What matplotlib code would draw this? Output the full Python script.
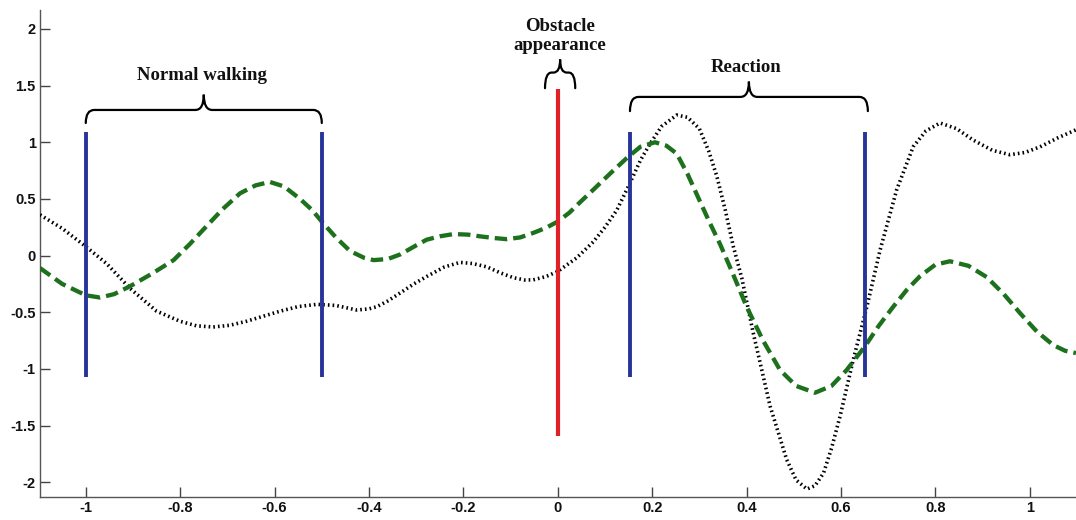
import matplotlib
matplotlib.use("Agg")
import matplotlib.pyplot as plt
from matplotlib.path import Path
from matplotlib.patches import PathPatch

plt.rcParams['axes.unicode_minus'] = False

# ---------------- data ----------------
green_x = [-1.097, -1.05, -1.0, -0.97, -0.94, -0.906, -0.86, -0.814, -0.78, -0.744,
           -0.71, -0.673, -0.64, -0.61, -0.58, -0.546, -0.52, -0.5, -0.47, -0.44,
           -0.41, -0.39, -0.36, -0.334, -0.30, -0.278, -0.25, -0.221, -0.19, -0.165,
           -0.135, -0.108, -0.08, -0.052, -0.025, 0.0, 0.025, 0.047, 0.075, 0.11,
           0.146, 0.175, 0.206, 0.23, 0.252, 0.275, 0.30, 0.322, 0.344, 0.37,
           0.40, 0.435, 0.471, 0.505, 0.545, 0.58, 0.612, 0.651, 0.68, 0.711,
           0.74, 0.768, 0.80, 0.831, 0.87, 0.909, 0.945, 0.98, 1.015, 1.05,
           1.075, 1.098]
green_y = [-0.11, -0.25, -0.35, -0.37, -0.34, -0.27, -0.16, -0.04, 0.10, 0.26,
           0.41, 0.55, 0.62, 0.65, 0.61, 0.50, 0.40, 0.30, 0.16, 0.04,
           -0.02, -0.04, -0.03, 0.01, 0.09, 0.14, 0.17, 0.19, 0.185, 0.17,
           0.155, 0.145, 0.16, 0.20, 0.245, 0.30, 0.38, 0.47, 0.58, 0.72,
           0.86, 0.96, 1.00, 0.97, 0.90, 0.72, 0.49, 0.29, 0.10, -0.15,
           -0.45, -0.75, -1.01, -1.15, -1.21, -1.15, -1.01, -0.80, -0.62, -0.45,
           -0.30, -0.18, -0.08, -0.05, -0.09, -0.19, -0.34, -0.51, -0.67, -0.79,
           -0.84, -0.86]

black_x = [-1.097, -1.05, -1.0, -0.956, -0.906, -0.85, -0.8, -0.765, -0.73, -0.695,
           -0.66, -0.62, -0.588, -0.55, -0.51, -0.47, -0.426, -0.40, -0.383, -0.36,
           -0.334, -0.305, -0.278, -0.24, -0.207, -0.18, -0.15, -0.12, -0.094, -0.07,
           -0.052, -0.025, 0.0, 0.04, 0.075, 0.10, 0.125, 0.153, 0.175, 0.196,
           0.22, 0.252, 0.275, 0.30, 0.32, 0.337, 0.355, 0.372, 0.39, 0.414,
           0.45, 0.485, 0.505, 0.528, 0.545, 0.563, 0.58, 0.598, 0.626, 0.655,
           0.683, 0.718, 0.753, 0.78, 0.81, 0.845, 0.88, 0.92, 0.958, 0.99,
           1.022, 1.06, 1.098]
black_y = [0.36, 0.24, 0.08, -0.07, -0.29, -0.49, -0.58, -0.62, -0.63, -0.615,
           -0.58, -0.53, -0.49, -0.45, -0.43, -0.44, -0.48, -0.47, -0.45, -0.40,
           -0.33, -0.25, -0.185, -0.10, -0.06, -0.07, -0.10, -0.155, -0.195, -0.215,
           -0.214, -0.185, -0.14, -0.02, 0.12, 0.25, 0.40, 0.64, 0.84, 0.99,
           1.14, 1.24, 1.22, 1.12, 0.92, 0.70, 0.40, 0.08, -0.20, -0.68,
           -1.33, -1.80, -1.98, -2.06, -2.03, -1.92, -1.70, -1.42, -0.92, -0.45,
           0.05, 0.58, 0.96, 1.10, 1.17, 1.12, 1.02, 0.93, 0.89, 0.91,
           0.96, 1.04, 1.11]

# vertical markers: x, bottom, top
blue_x = [-1.0, -0.5, 0.152, 0.652]
blue_lo = [-1.07, -1.07, -1.07, -1.07]
blue_hi = [1.09, 1.09, 1.09, 1.09]
red_x = [0.0]
red_lo = [-1.59]
red_hi = [1.47]

xticks = [-1, -0.8, -0.6, -0.4, -0.2, 0, 0.2, 0.4, 0.6, 0.8, 1]
xtick_labels = ["-1", "-0.8", "-0.6", "-0.4", "-0.2", "0", "0.2", "0.4", "0.6", "0.8", "1"]
yticks = [-2, -1.5, -1, -0.5, 0, 0.5, 1, 1.5, 2]
ytick_labels = ["-2", "-1.5", "-1", "-0.5", "0", "0.5", "1", "1.5", "2"]

labels = ["Normal walking", "Obstacle\nappearance", "Reaction"]

# ---------------- figure ----------------
fig = plt.figure(figsize=(10.76, 5.2), dpi=100)
ax = fig.add_axes([40/1076, 23/520, 1 - 40/1076, (497-10)/520])
ax.set_xlim(-1.097, 1.098)
ax.set_ylim(-2.13, 2.167)

ax.plot(black_x, black_y, color='black', lw=2.6, dashes=(0.45, 0.85),
        dash_capstyle='butt', zorder=3)
ax.plot(green_x, green_y, color='#1d711d', lw=3.1, dashes=(2.9, 1.4),
        dash_capstyle='butt', zorder=4)

ax.vlines(blue_x, blue_lo, blue_hi, colors='#27349a', lw=2.8, zorder=5)
ax.vlines(red_x, red_lo, red_hi, colors='#e02228', lw=3.0, zorder=5)


def brace(x0, x1, y_end, y_mid, y_tip, rx):
    xc = (x0 + x1) / 2
    verts = [(x0, y_end), (x0, y_mid), (x0 + rx, y_mid),
             (xc - rx, y_mid), (xc, y_mid), (xc, y_tip),
             (xc, y_mid), (xc + rx, y_mid),
             (x1 - rx, y_mid), (x1, y_mid), (x1, y_end)]
    codes = [Path.MOVETO, Path.CURVE3, Path.CURVE3,
             Path.LINETO, Path.CURVE3, Path.CURVE3,
             Path.CURVE3, Path.CURVE3,
             Path.LINETO, Path.CURVE3, Path.CURVE3]
    ax.add_patch(PathPatch(Path(verts, codes), fill=False, edgecolor='black',
                           lw=1.6, zorder=6, capstyle='round'))


brace(-1.0, -0.5, 1.17, 1.285, 1.42, 0.018)
brace(-0.027, 0.037, 1.477, 1.615, 1.73, 0.014)
brace(0.153, 0.657, 1.275, 1.40, 1.535, 0.018)

tfont = dict(family=['Liberation Serif', 'DejaVu Serif'], weight='bold', fontsize=13.5,
             ha='center', va='center', color='#111111')
ax.text(-0.754, 1.593, labels[0], **tfont)
ax.text(0.005, 1.937, labels[1], linespacing=1.2, **tfont)
ax.text(0.40, 1.66, labels[2], **tfont)

for s in ['top', 'right']:
    ax.spines[s].set_visible(False)
for s in ['left', 'bottom']:
    ax.spines[s].set_color('#555555')
    ax.spines[s].set_linewidth(1.0)

ax.set_xticks(xticks)
ax.set_xticklabels(xtick_labels)
ax.set_yticks(yticks)
ax.set_yticklabels(ytick_labels)
ax.tick_params(direction='in', length=7, width=1.0, color='#444444',
               labelsize=10.5, labelcolor='#111111')
ax.tick_params(axis='x', pad=3)
ax.tick_params(axis='y', pad=3)
for lab in ax.get_xticklabels() + ax.get_yticklabels():
    lab.set_family(['Liberation Sans', 'DejaVu Sans'])
    lab.set_fontweight('bold')

fig.savefig('out.png', dpi=100)
